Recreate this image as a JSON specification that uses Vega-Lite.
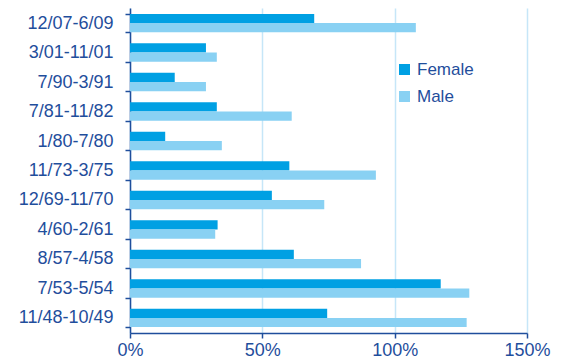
{
  "$schema": "https://vega.github.io/schema/vega-lite/v6.json",
  "width": 397,
  "height": 325,
  "autosize": "none",
  "padding": {"left": 130, "top": 8, "right": 43, "bottom": 29},
  "config": {
    "view": {"stroke": null},
    "font": "Liberation Sans"
  },
  "data": {
    "values": [
      {"period": "12/07-6/09", "sex": "Female", "pct": 69.6},
      {"period": "12/07-6/09", "sex": "Male", "pct": 108.0},
      {"period": "3/01-11/01", "sex": "Female", "pct": 28.7},
      {"period": "3/01-11/01", "sex": "Male", "pct": 32.8},
      {"period": "7/90-3/91", "sex": "Female", "pct": 16.9},
      {"period": "7/90-3/91", "sex": "Male", "pct": 28.7},
      {"period": "7/81-11/82", "sex": "Female", "pct": 32.8},
      {"period": "7/81-11/82", "sex": "Male", "pct": 61.1},
      {"period": "1/80-7/80", "sex": "Female", "pct": 13.3},
      {"period": "1/80-7/80", "sex": "Male", "pct": 34.7},
      {"period": "11/73-3/75", "sex": "Female", "pct": 60.2},
      {"period": "11/73-3/75", "sex": "Male", "pct": 92.9},
      {"period": "12/69-11/70", "sex": "Female", "pct": 53.6},
      {"period": "12/69-11/70", "sex": "Male", "pct": 73.4},
      {"period": "4/60-2/61", "sex": "Female", "pct": 33.1},
      {"period": "4/60-2/61", "sex": "Male", "pct": 32.2},
      {"period": "8/57-4/58", "sex": "Female", "pct": 61.9},
      {"period": "8/57-4/58", "sex": "Male", "pct": 87.3},
      {"period": "7/53-5/54", "sex": "Female", "pct": 117.4},
      {"period": "7/53-5/54", "sex": "Male", "pct": 128.2},
      {"period": "11/48-10/49", "sex": "Female", "pct": 74.5},
      {"period": "11/48-10/49", "sex": "Male", "pct": 127.2}
    ]
  },
  "mark": {"type": "bar"},
  "encoding": {
    "y": {
      "field": "period",
      "type": "nominal",
      "sort": null,
      "scale": {"paddingInner": 0.375, "paddingOuter": 0.2},
      "axis": {
        "title": null,
        "domainColor": "#1f4e9c",
        "domainWidth": 1.5,
        "tickColor": "#1f4e9c",
        "tickBand": "extent",
        "tickSize": 5,
        "tickWidth": 1.5,
        "labelColor": "#1f4e9c",
        "labelFontSize": 18,
        "labelPadding": 12,
        "grid": false
      }
    },
    "yOffset": {
      "field": "sex",
      "type": "nominal",
      "sort": ["Female", "Male"],
      "scale": {"paddingInner": 0, "paddingOuter": 0}
    },
    "x": {
      "field": "pct",
      "type": "quantitative",
      "scale": {"domain": [0, 150], "nice": false},
      "axis": {
        "title": null,
        "values": [0, 50, 100, 150],
        "labelExpr": "datum.value + '%'",
        "labelFlush": false,
        "labelBound": false,
        "domainColor": "#1f4e9c",
        "domainWidth": 1.5,
        "tickColor": "#1f4e9c",
        "tickSize": 5,
        "tickWidth": 1.5,
        "labelColor": "#1f4e9c",
        "labelFontSize": 18,
        "labelPadding": 3,
        "gridColor": "#c6e6f8",
        "gridWidth": 1.5
      }
    },
    "color": {
      "field": "sex",
      "type": "nominal",
      "sort": ["Female", "Male"],
      "scale": {"domain": ["Female", "Male"], "range": ["#00a0e3", "#89d1f3"]},
      "legend": {
        "title": null,
        "orient": "none",
        "legendX": 266,
        "legendY": 53,
        "symbolType": "square",
        "symbolSize": 121,
        "symbolStrokeWidth": 0,
        "labelColor": "#1f4e9c",
        "labelFontSize": 17,
        "labelOffset": 4,
        "rowPadding": 9
      }
    }
  }
}
